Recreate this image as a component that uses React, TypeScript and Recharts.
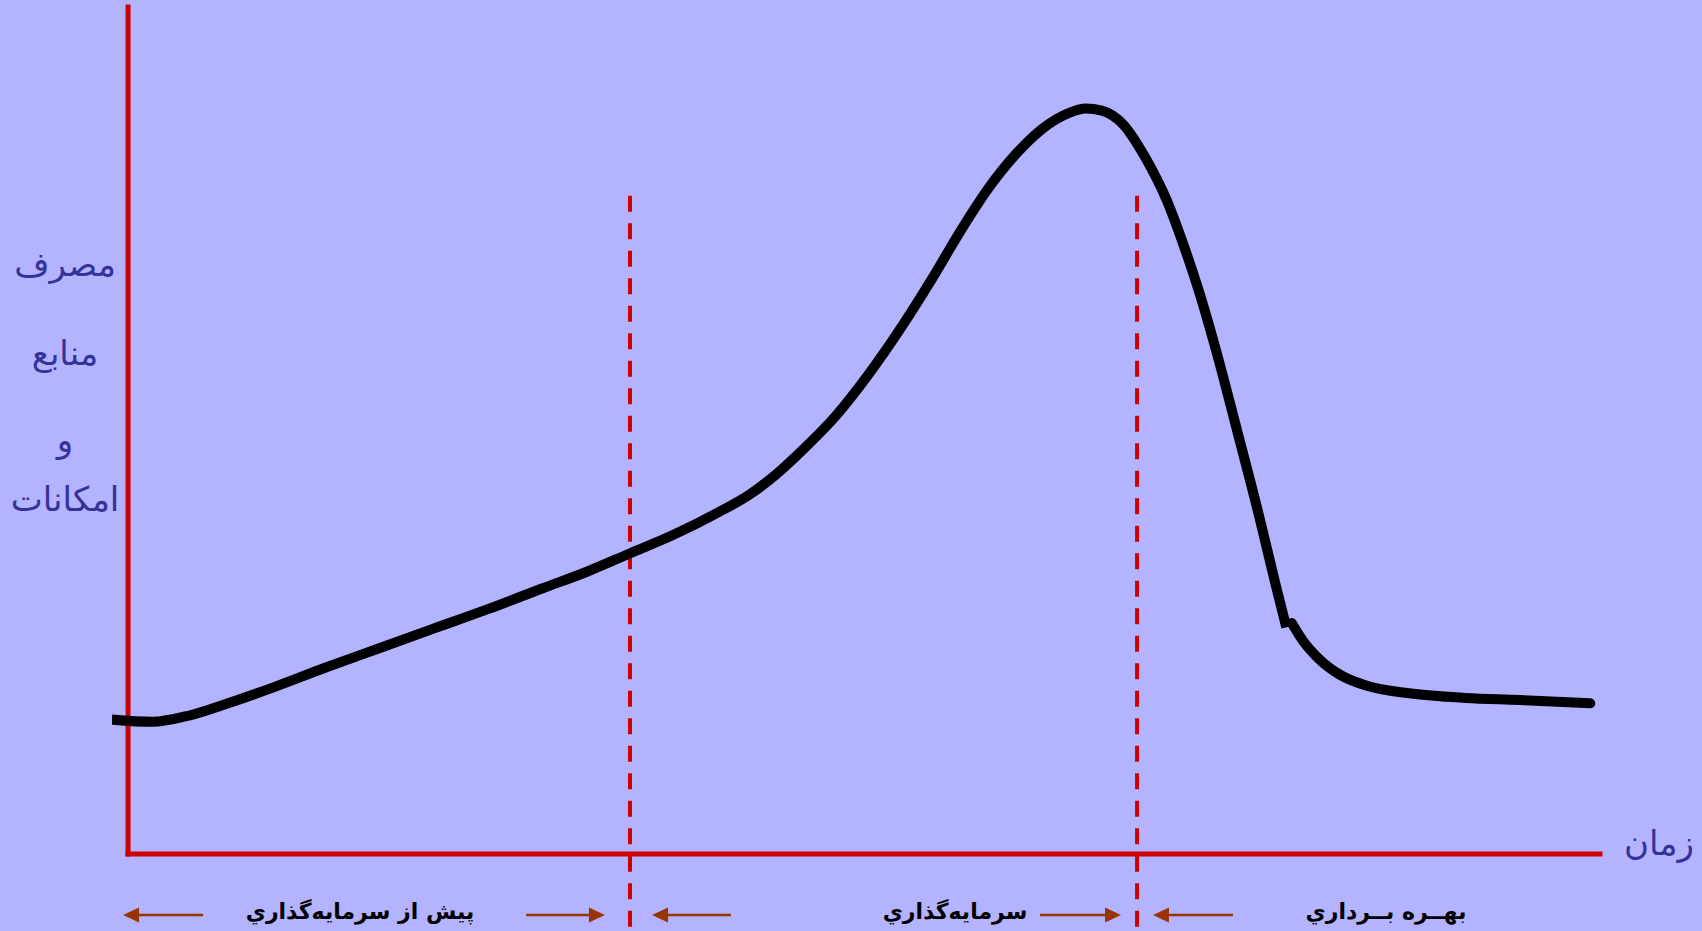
import { LineChart, Line, XAxis, YAxis, ReferenceLine, ReferenceDot } from "recharts";

// time (0..100) / resource use (0..100)
const riseT = [-1.1, 1.63, 4.21, 6.79, 9.74, 13.43, 17.11, 20.8, 24.49, 28.18, 31.13, 34.07, 37.02, 39.97, 42.19, 44.03, 45.87, 48.09, 50.3, 52.51, 54.72, 56.57, 58.41, 60.25, 62.1, 63.94, 65.05, 66.15, 67.63, 69.1, 70.58, 71.69, 72.79, 73.9, 75.37, 76.85, 77.95, 78.69];
const riseR = [15.86, 15.6, 16.37, 17.78, 19.58, 22.01, 24.32, 26.63, 28.93, 31.37, 33.29, 35.47, 37.65, 40.21, 42.39, 44.82, 47.77, 51.74, 56.61, 62.13, 68.2, 73.6, 78.5, 82.5, 85.6, 87.5, 88.01, 87.76, 86.09, 82.25, 77.12, 71.99, 66.23, 59.56, 49.82, 39.83, 31.88, 26.75];

const tailT = [79.06, 79.8, 80.9, 82.38, 84.22, 87.17, 90.86, 94.54, 99.34];
const tailR = [27.27, 25.22, 23.04, 21.11, 19.83, 18.94, 18.42, 18.17, 17.78];

// phase boundaries (dashed lines)
const phaseBounds = [34.1, 68.55];
const boundTop = 77.7;

// arrows under the time axis: [from, to]
const arrows = [
  [5.1, -0.34],
  [27.04, 32.4],
  [40.96, 35.6],
  [61.96, 67.46],
  [75.07, 69.63],
];
const arrowY = -7.2;

const yTitle = ["مصرف", "منابع", "و", "امکانات"];
const xTitle = "زمان";
const phaseLabels = ["پيش از سرمايه‌گذاري", "سرمايه‌گذاري", "بهــره بــرداري"];

const riseData = riseT.map((t, i) => ({ t, r: riseR[i] }));
const tailData = tailT.map((t, i) => ({ t, r: tailR[i] }));

const RED = "#cc0000";
const ARROW = "#993300";
const NAVY = "#333399";

const head = (dir: number) => (props: any) => {
  const { cx, cy } = props;
  const len = 16;
  const half = 7.5;
  const bx = cx - dir * len;
  return <polygon points={`${cx},${cy} ${bx},${cy - half} ${bx},${cy + half}`} fill={ARROW} />;
};

const label = (text: string, x: number, y: number, style: any) => (
  <div
    key={text + x + y}
    style={{
      position: "absolute",
      left: x,
      top: y,
      transform: "translate(-50%, -50%)",
      whiteSpace: "nowrap",
      direction: "rtl",
      ...style,
    }}
  >
    {text}
  </div>
);

export default function App() {
  const titleStyle = { fontFamily: "'DejaVu Sans'", fontSize: 34, color: NAVY };
  const phaseStyle = { fontFamily: "'DejaVu Sans'", fontSize: 22, fontWeight: "bold", color: "#000" };
  const yTitlePos = [264, 353, 440, 499];
  const phaseX = [360, 955, 1386];

  return (
    <div
      style={{
        position: "fixed",
        left: 0,
        top: 0,
        width: 1702,
        height: 931,
        background: "#b3b3ff",
        overflow: "hidden",
      }}
    >
      <LineChart width={1702} height={931} margin={{ top: 7, right: 102, bottom: 0, left: 112 }}>
        <XAxis type="number" dataKey="t" domain={[-1.09, 100]} hide allowDataOverflow />
        <YAxis type="number" dataKey="r" domain={[-9.1, 100]} hide allowDataOverflow />

        <ReferenceLine segment={[{ x: 0, y: 0 }, { x: 0, y: 100 }]} stroke={RED} strokeWidth={5} strokeLinecap="square" />
        <ReferenceLine segment={[{ x: 0, y: 0 }, { x: 100, y: 0 }]} stroke={RED} strokeWidth={5} strokeLinecap="square" />

        {phaseBounds.map((x) => (
          <ReferenceLine
            key={x}
            segment={[{ x, y: boundTop }, { x, y: -9.1 }]}
            stroke={RED}
            strokeWidth={4}
            strokeDasharray="16 11.5"
          />
        ))}

        {arrows.map(([from, to], i) => {
          const dir = to > from ? 1 : -1;
          return (
            <ReferenceLine
              key={"a" + i}
              segment={[{ x: from, y: arrowY }, { x: to - dir * 0.8, y: arrowY }]}
              stroke={ARROW}
              strokeWidth={2.5}
            />
          );
        })}
        {arrows.map(([from, to], i) => (
          <ReferenceDot key={"h" + i} x={to} y={arrowY} r={8} shape={head(to > from ? 1 : -1)} />
        ))}

        <Line
          data={riseData}
          dataKey="r"
          type="monotone"
          stroke="#000"
          strokeWidth={10}
          dot={false}
          isAnimationActive={false}
        />
        <Line
          data={tailData}
          dataKey="r"
          type="monotone"
          stroke="#000"
          strokeWidth={10}
          strokeLinecap="round"
          dot={false}
          isAnimationActive={false}
        />
      </LineChart>

      {yTitle.map((t, i) => label(t, 65, yTitlePos[i], titleStyle))}
      {label(xTitle, 1659, 843, titleStyle)}
      {phaseLabels.map((t, i) => label(t, phaseX[i], 911, phaseStyle))}
    </div>
  );
}
